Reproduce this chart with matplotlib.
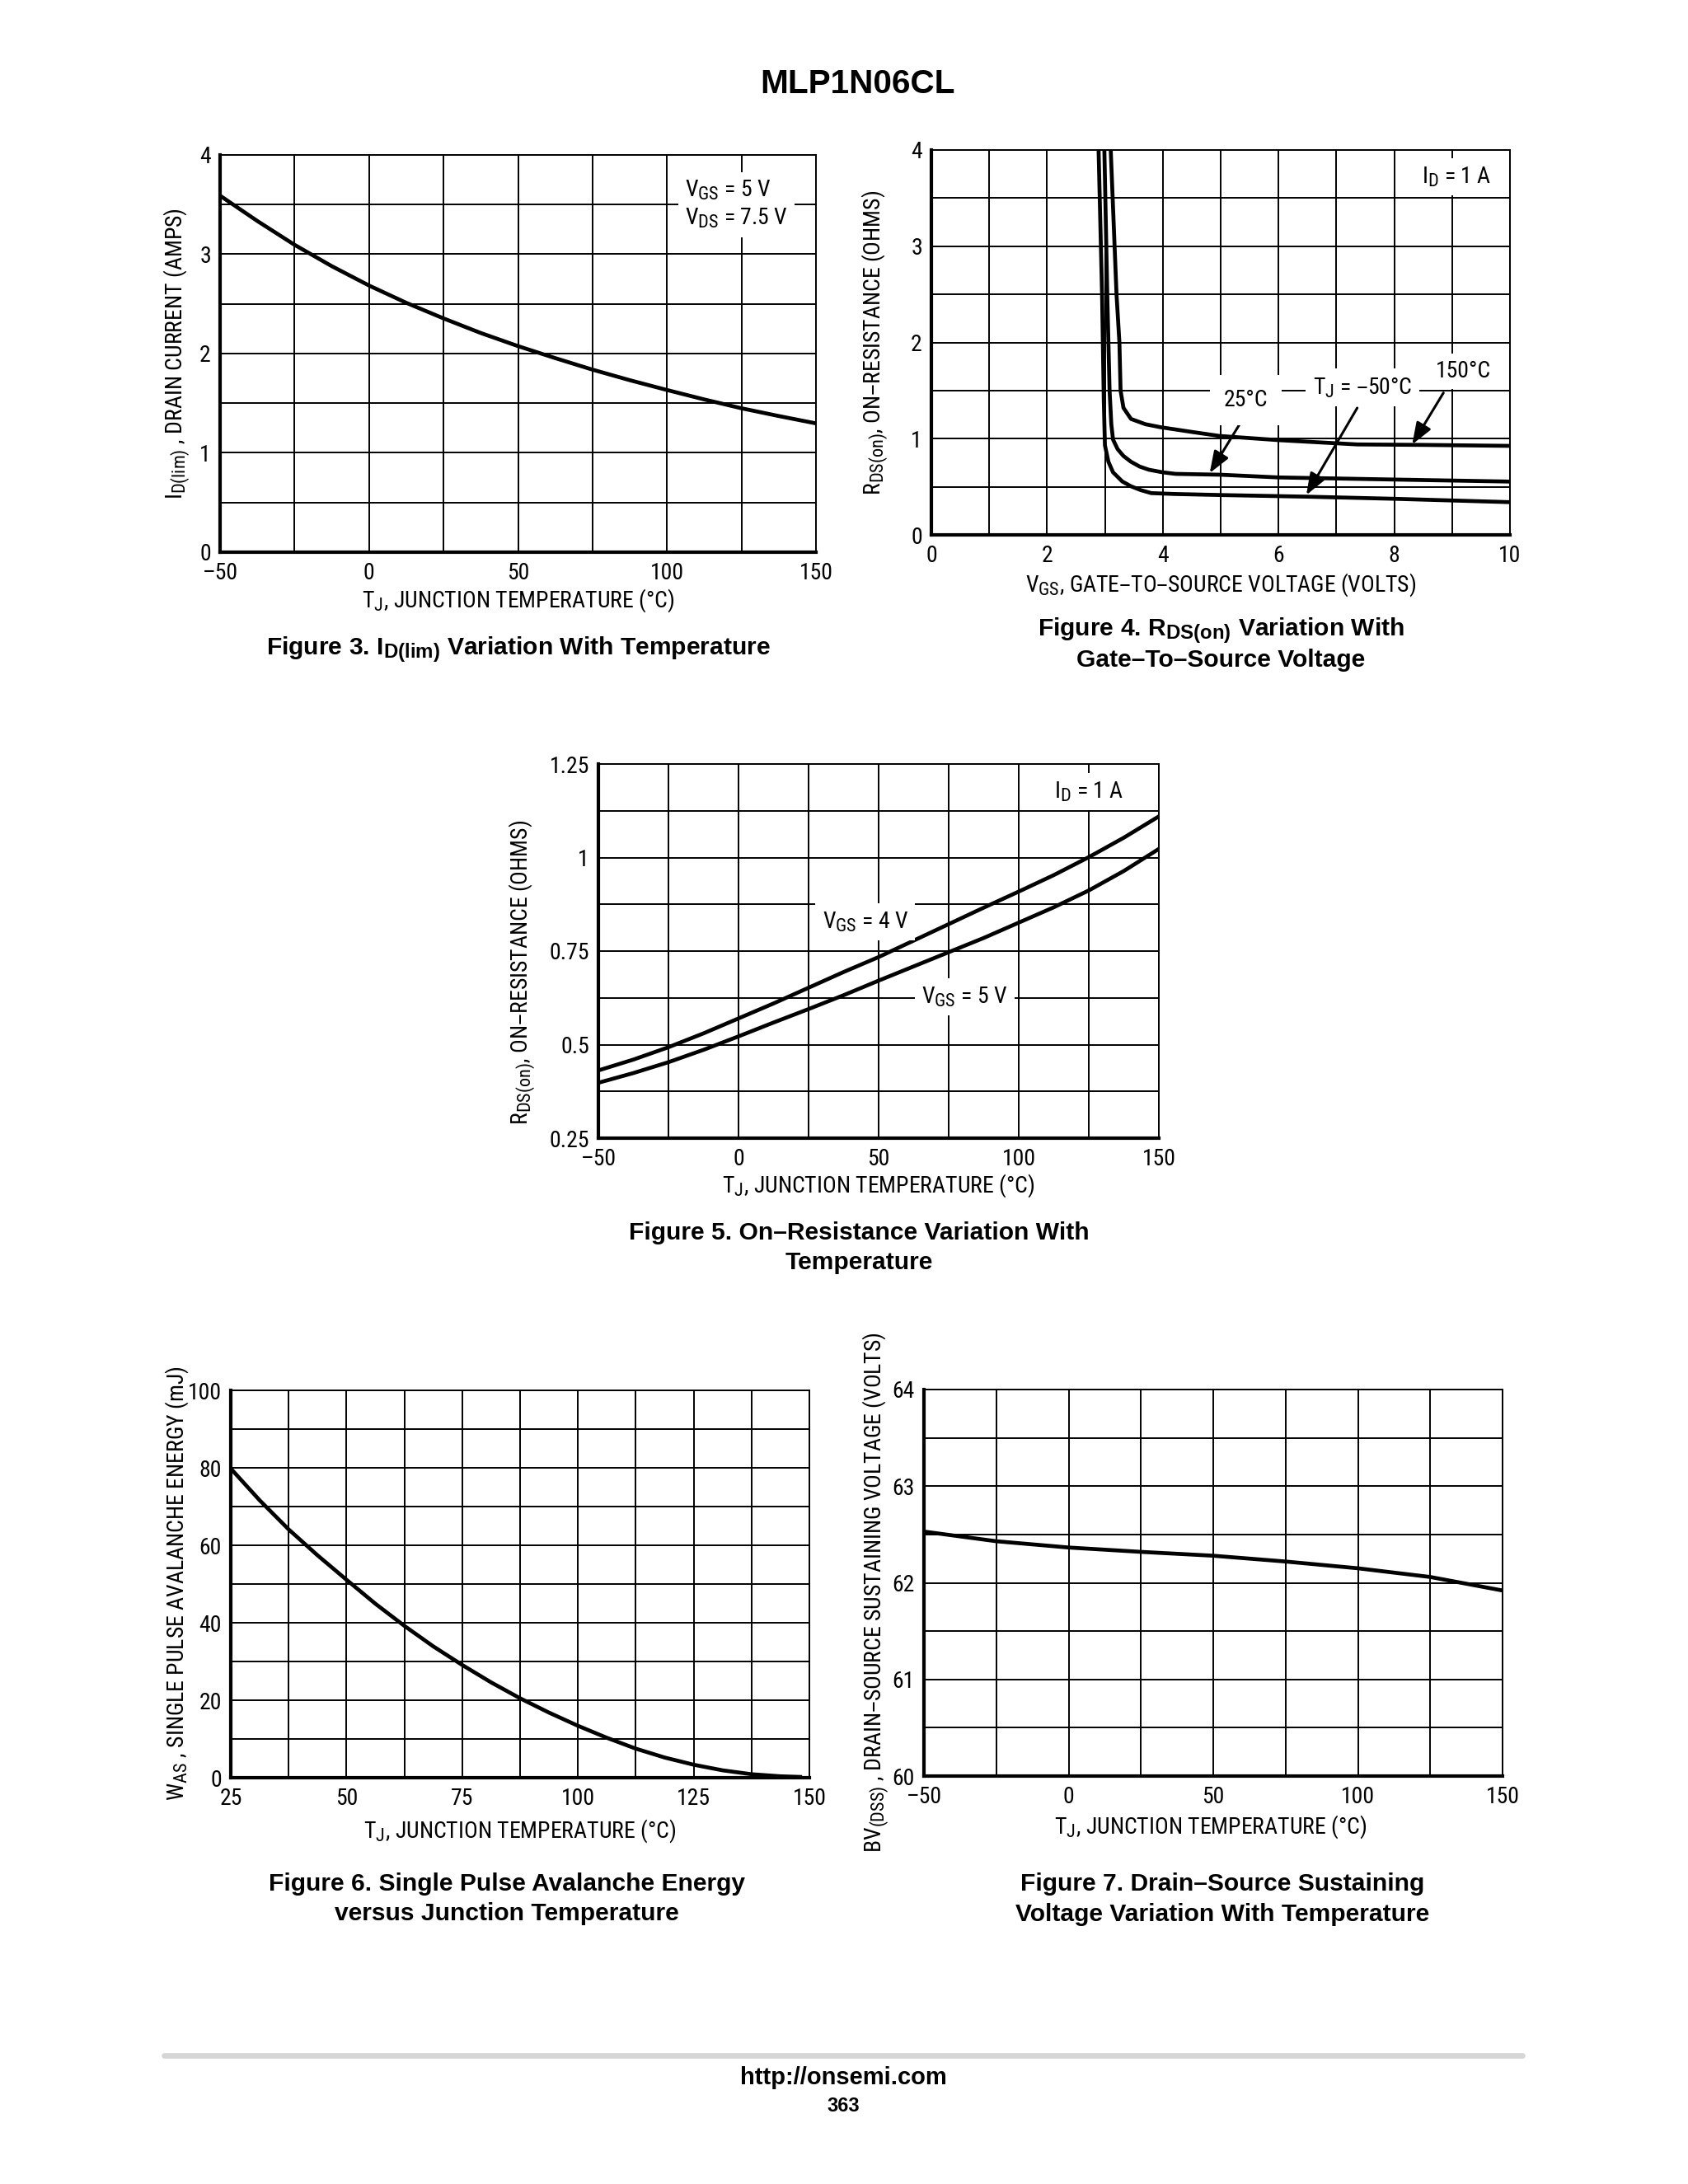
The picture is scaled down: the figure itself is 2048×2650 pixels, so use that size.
import numpy as np
import matplotlib
matplotlib.use("Agg")
import matplotlib.pyplot as plt
from matplotlib import font_manager
import matplotlib._mathtext as mathtext_internals

# subscripts in the datasheet are nearly full size
mathtext_internals.SHRINK_FACTOR = 0.8

# pick a condensed face if one is installed, else plain Liberation Sans
installed = {f.name for f in font_manager.fontManager.ttflist}
BASE, FS = 'Liberation Sans', 8.6
for name in ['Liberation Sans Narrow', 'Roboto Condensed', 'Arial Narrow']:
    if name in installed:
        BASE, FS = name, 10
        break
plt.rcParams['font.family'] = [BASE, 'DejaVu Sans']
plt.rcParams['mathtext.default'] = 'regular'

# ---- data ----

# Figure 3: I_D(lim) vs junction temperature
fig3_tj = [-50, -37.5, -25, -12.5, 0, 12.5, 25, 37.5, 50, 62.5, 75, 87.5, 100, 112.5, 125, 137.5, 150]
fig3_id = [3.59, 3.335, 3.095, 2.88, 2.685, 2.511, 2.354, 2.207, 2.075, 1.954, 1.838, 1.732,
           1.633, 1.538, 1.449, 1.371, 1.297]

# Figure 4: R_DS(on) vs V_GS, three temperatures
fig4_vgs_m50 = [2.89, 2.95, 2.98, 3.0, 3.06, 3.14, 3.3, 3.45, 3.62, 3.8, 4.2, 5.0, 6.5, 8.0, 10.0]
fig4_r_m50 = [4.0, 2.5, 1.4, 0.93, 0.76, 0.65, 0.555, 0.505, 0.465, 0.434, 0.425, 0.414, 0.397, 0.375, 0.34]
fig4_vgs_25 = [2.99, 3.04, 3.08, 3.11, 3.14, 3.22, 3.32, 3.45, 3.6, 3.76, 4.0, 4.22, 5.0, 6.0, 8.0, 10.0]
fig4_r_25 = [4.0, 2.5, 1.5, 1.15, 0.99, 0.89, 0.82, 0.76, 0.71, 0.677, 0.65, 0.634, 0.625, 0.597, 0.575, 0.554]
fig4_vgs_150 = [3.10, 3.20, 3.25, 3.27, 3.32, 3.45, 3.7, 3.96, 4.5, 4.98, 5.99, 7.36, 8.5, 10.0]
fig4_r_150 = [4.0, 2.5, 2.0, 1.5, 1.32, 1.205, 1.15, 1.119, 1.07, 1.028, 0.985, 0.94, 0.935, 0.925]

# Figure 5: R_DS(on) vs junction temperature
fig5_tj = [-50, -37.5, -25, -12.5, 0, 12.5, 25, 37.5, 50, 62.5, 75, 87.5, 100, 112.5, 125, 137.5, 150]
fig5_r_4v = [0.431, 0.460, 0.493, 0.530, 0.570, 0.610, 0.652, 0.694, 0.734, 0.778, 0.822, 0.866,
             0.909, 0.953, 1.001, 1.053, 1.110]
fig5_r_5v = [0.398, 0.424, 0.453, 0.486, 0.522, 0.559, 0.595, 0.632, 0.671, 0.709, 0.747, 0.785,
             0.826, 0.867, 0.912, 0.964, 1.023]

# Figure 6: single pulse avalanche energy
fig6_tj = [25, 31.25, 37.5, 43.75, 50, 56.25, 62.5, 68.75, 75, 81.25, 87.5, 93.75, 100, 106.25,
           112.5, 118.75, 125, 131.25, 137.5, 143.75, 148]
fig6_was = [79.8, 71.6, 64.1, 57.4, 51.1, 44.9, 39.2, 33.9, 29.1, 24.6, 20.5, 16.8, 13.4, 10.3,
            7.5, 5.2, 3.35, 1.9, 0.9, 0.36, 0.2]

# Figure 7: BV(DSS) vs junction temperature
fig7_tj = [-50, -25, 0, 25, 50, 75, 100, 125, 150]
fig7_bv = [62.53, 62.43, 62.365, 62.32, 62.28, 62.22, 62.15, 62.06, 61.92]

# grids and tick labels
temp_grid = np.arange(-50, 151, 25)
temp_labels = ['\u201350', '', '0', '', '50', '', '100', '', '150']
fig3_ygrid = np.arange(0, 4.01, 0.5)
fig3_ylabels = ['0', '', '1', '', '2', '', '3', '', '4']
fig4_xgrid = np.arange(0, 11, 1)
fig4_xlabels = ['0', '', '2', '', '4', '', '6', '', '8', '', '10']
fig5_ygrid = np.arange(0.25, 1.2501, 0.125)
fig5_ylabels = ['0.25', '', '0.5', '', '0.75', '', '1', '', '1.25']
fig6_xgrid = np.arange(25, 150.1, 12.5)
fig6_xlabels = ['25', '', '50', '', '75', '', '100', '', '125', '', '150']
fig6_ygrid = np.arange(0, 101, 10)
fig6_ylabels = ['0', '', '20', '', '40', '', '60', '', '80', '', '100']
fig7_ygrid = np.arange(60, 64.01, 0.5)
fig7_ylabels = ['60', '', '61', '', '62', '', '63', '', '64']

W, H = 2048, 2650
fig = plt.figure(figsize=(W / 200, H / 200), dpi=200)
fig.patch.set_facecolor('white')

CURVE_LW = 1.7
BOX = dict(boxstyle='square,pad=0.3', facecolor='white', edgecolor='none')


def px_axes(left, top, right, bottom):
    return fig.add_axes([left / W, 1 - bottom / H, (right - left) / W, (bottom - top) / H])


def style_axes(ax, xgrid, xlabels, ygrid, ylabels):
    ax.set_xlim(xgrid[0], xgrid[-1])
    ax.set_ylim(ygrid[0], ygrid[-1])
    ax.set_xticks(xgrid)
    ax.set_xticklabels(xlabels)
    ax.set_yticks(ygrid)
    ax.set_yticklabels(ylabels)
    ax.set_axisbelow(True)
    ax.grid(True, color='black', linewidth=0.7)
    ax.tick_params(axis='both', length=0, labelsize=FS)
    ax.tick_params(axis='x', pad=4.5)
    ax.tick_params(axis='y', pad=4)
    for s in ['left', 'bottom']:
        ax.spines[s].set_linewidth(1.5)
    for s in ['top', 'right']:
        ax.spines[s].set_linewidth(0.7)


# ---- Figure 3 ----
ax3 = px_axes(267, 188, 990, 670)
style_axes(ax3, temp_grid, temp_labels, fig3_ygrid, fig3_ylabels)
ax3.plot(fig3_tj, fig3_id, color='black', lw=CURVE_LW)
ax3.text(106, 3.50, '$V_{GS}$ = 5 V\n$V_{DS}$ = 7.5 V', fontsize=FS, ha='left', va='center',
         bbox=BOX, linespacing=1.25)
ax3.set_xlabel('$T_J$, JUNCTION TEMPERATURE (\u00b0C)', fontsize=FS)
ax3.xaxis.set_label_coords(0.5, -0.088)
ax3.set_ylabel('$I_{D(lim)}$ , DRAIN CURRENT (AMPS)', fontsize=FS)
ax3.yaxis.set_label_coords(-0.047, 0.5)

# ---- Figure 4 ----
ax4 = px_axes(1130, 182, 1832, 649)
style_axes(ax4, fig4_xgrid, fig4_xlabels, fig3_ygrid, fig3_ylabels)
ax4.plot(fig4_vgs_m50, fig4_r_m50, color='black', lw=CURVE_LW)
ax4.plot(fig4_vgs_25, fig4_r_25, color='black', lw=CURVE_LW)
ax4.plot(fig4_vgs_150, fig4_r_150, color='black', lw=CURVE_LW)
arrow = dict(arrowstyle='-|>,head_length=0.8,head_width=0.3', color='black', lw=1.1,
             shrinkA=0, shrinkB=0)
ax4.annotate('', xy=(4.81, 0.642), xytext=(5.34, 1.162), arrowprops=arrow)
ax4.annotate('', xy=(6.48, 0.414), xytext=(7.36, 1.319), arrowprops=arrow)
ax4.annotate('', xy=(8.31, 0.94), xytext=(8.85, 1.476), arrowprops=arrow)
ax4.text(5.44, 1.40, '25\u00b0C', fontsize=FS, ha='center', va='center',
         bbox=dict(boxstyle='square,pad=0.6', facecolor='white', edgecolor='none'))
ax4.text(7.45, 1.53, '$T_J$ = \u201350\u00b0C', fontsize=FS, ha='center', va='center', bbox=BOX)
ax4.text(9.20, 1.70, '150\u00b0C', fontsize=FS, ha='center', va='center', bbox=BOX)
ax4.text(9.07, 3.72, '$I_D$ = 1 A', fontsize=FS, ha='center', va='center', bbox=BOX)
ax4.set_xlabel('$V_{GS}$, GATE\u2013TO\u2013SOURCE VOLTAGE (VOLTS)', fontsize=FS)
ax4.xaxis.set_label_coords(0.5, -0.094)
ax4.set_ylabel('R$_{DS(on)}$, ON\u2013RESISTANCE (OHMS)', fontsize=FS)
ax4.yaxis.set_label_coords(-0.071, 0.5)

# ---- Figure 5 ----
ax5 = px_axes(726, 927, 1406, 1381)
style_axes(ax5, temp_grid, temp_labels, fig5_ygrid, fig5_ylabels)
ax5.plot(fig5_tj, fig5_r_4v, color='black', lw=CURVE_LW)
ax5.plot(fig5_tj, fig5_r_5v, color='black', lw=CURVE_LW)
ax5.text(45.2, 0.828, '$V_{GS}$ = 4 V', fontsize=FS, ha='center', va='center', bbox=BOX)
ax5.text(80.6, 0.627, '$V_{GS}$ = 5 V', fontsize=FS, ha='center', va='center', bbox=BOX)
ax5.text(125, 1.176, '$I_D$ = 1 A', fontsize=FS, ha='center', va='center', bbox=BOX)
ax5.set_xlabel('$T_J$, JUNCTION TEMPERATURE (\u00b0C)', fontsize=FS)
ax5.xaxis.set_label_coords(0.5, -0.09)
ax5.set_ylabel('R$_{DS(on)}$, ON\u2013RESISTANCE (OHMS)', fontsize=FS)
ax5.yaxis.set_label_coords(-0.109, 0.443)

# ---- Figure 6 ----
ax6 = px_axes(280, 1687, 982, 2157)
style_axes(ax6, fig6_xgrid, fig6_xlabels, fig6_ygrid, fig6_ylabels)
ax6.plot(fig6_tj, fig6_was, color='black', lw=CURVE_LW)
ax6.set_xlabel('$T_J$, JUNCTION TEMPERATURE (\u00b0C)', fontsize=FS)
ax6.xaxis.set_label_coords(0.5, -0.102)
ax6.set_ylabel('$W_{AS}$ , SINGLE PULSE AVALANCHE ENERGY (mJ)', fontsize=FS)
ax6.yaxis.set_label_coords(-0.07, 0.502)

# ---- Figure 7 ----
ax7 = px_axes(1121, 1686, 1823, 2155)
style_axes(ax7, temp_grid, temp_labels, fig7_ygrid, fig7_ylabels)
ax7.plot(fig7_tj, fig7_bv, color='black', lw=CURVE_LW)
ax7.set_xlabel('$T_J$, JUNCTION TEMPERATURE (\u00b0C)', fontsize=FS)
ax7.xaxis.set_label_coords(0.496, -0.096)
ax7.set_ylabel('BV$_{(DSS)}$ , DRAIN\u2013SOURCE SUSTAINING VOLTAGE (VOLTS)', fontsize=FS)
ax7.yaxis.set_label_coords(-0.057, 0.476)

# ---- page text ----
cap = dict(family=['Liberation Sans', 'DejaVu Sans'], weight='bold', fontsize=10.8,
           ha='center', va='center')


def ftext(x, y, s, **kw):
    fig.text(x / W, 1 - y / H, s, **kw)


ftext(1040, 102, 'MLP1N06CL', family=['Liberation Sans', 'DejaVu Sans'], weight='bold',
      fontsize=14.6, ha='center', va='center')
ftext(629, 788, 'Figure 3. I$_{D(lim)}$ Variation With Temperature', **cap)
ftext(1481, 765, 'Figure 4. R$_{DS(on)}$ Variation With', **cap)
ftext(1481, 801, 'Gate\u2013To\u2013Source Voltage', **cap)
ftext(1042, 1496, 'Figure 5. On\u2013Resistance Variation With', **cap)
ftext(1042, 1532, 'Temperature', **cap)
ftext(615, 2286, 'Figure 6. Single Pulse Avalanche Energy', **cap)
ftext(615, 2322, 'versus Junction Temperature', **cap)
ftext(1483, 2286, 'Figure 7. Drain\u2013Source Sustaining', **cap)
ftext(1483, 2323, 'Voltage Variation With Temperature', **cap)

fig.add_artist(plt.Line2D([199 / W, 1847 / W], [1 - 2494 / H, 1 - 2494 / H],
                          color='#d6d6d6', linewidth=2.4, solid_capstyle='round'))
ftext(1023, 2521, 'http://onsemi.com', family=['Liberation Sans', 'DejaVu Sans'],
      weight='bold', fontsize=10.5, ha='center', va='center')
ftext(1023, 2556, '363', family=['Liberation Sans', 'DejaVu Sans'], weight='bold',
      fontsize=8.5, ha='center', va='center')

fig.savefig('out.png', dpi=200, facecolor='white')
